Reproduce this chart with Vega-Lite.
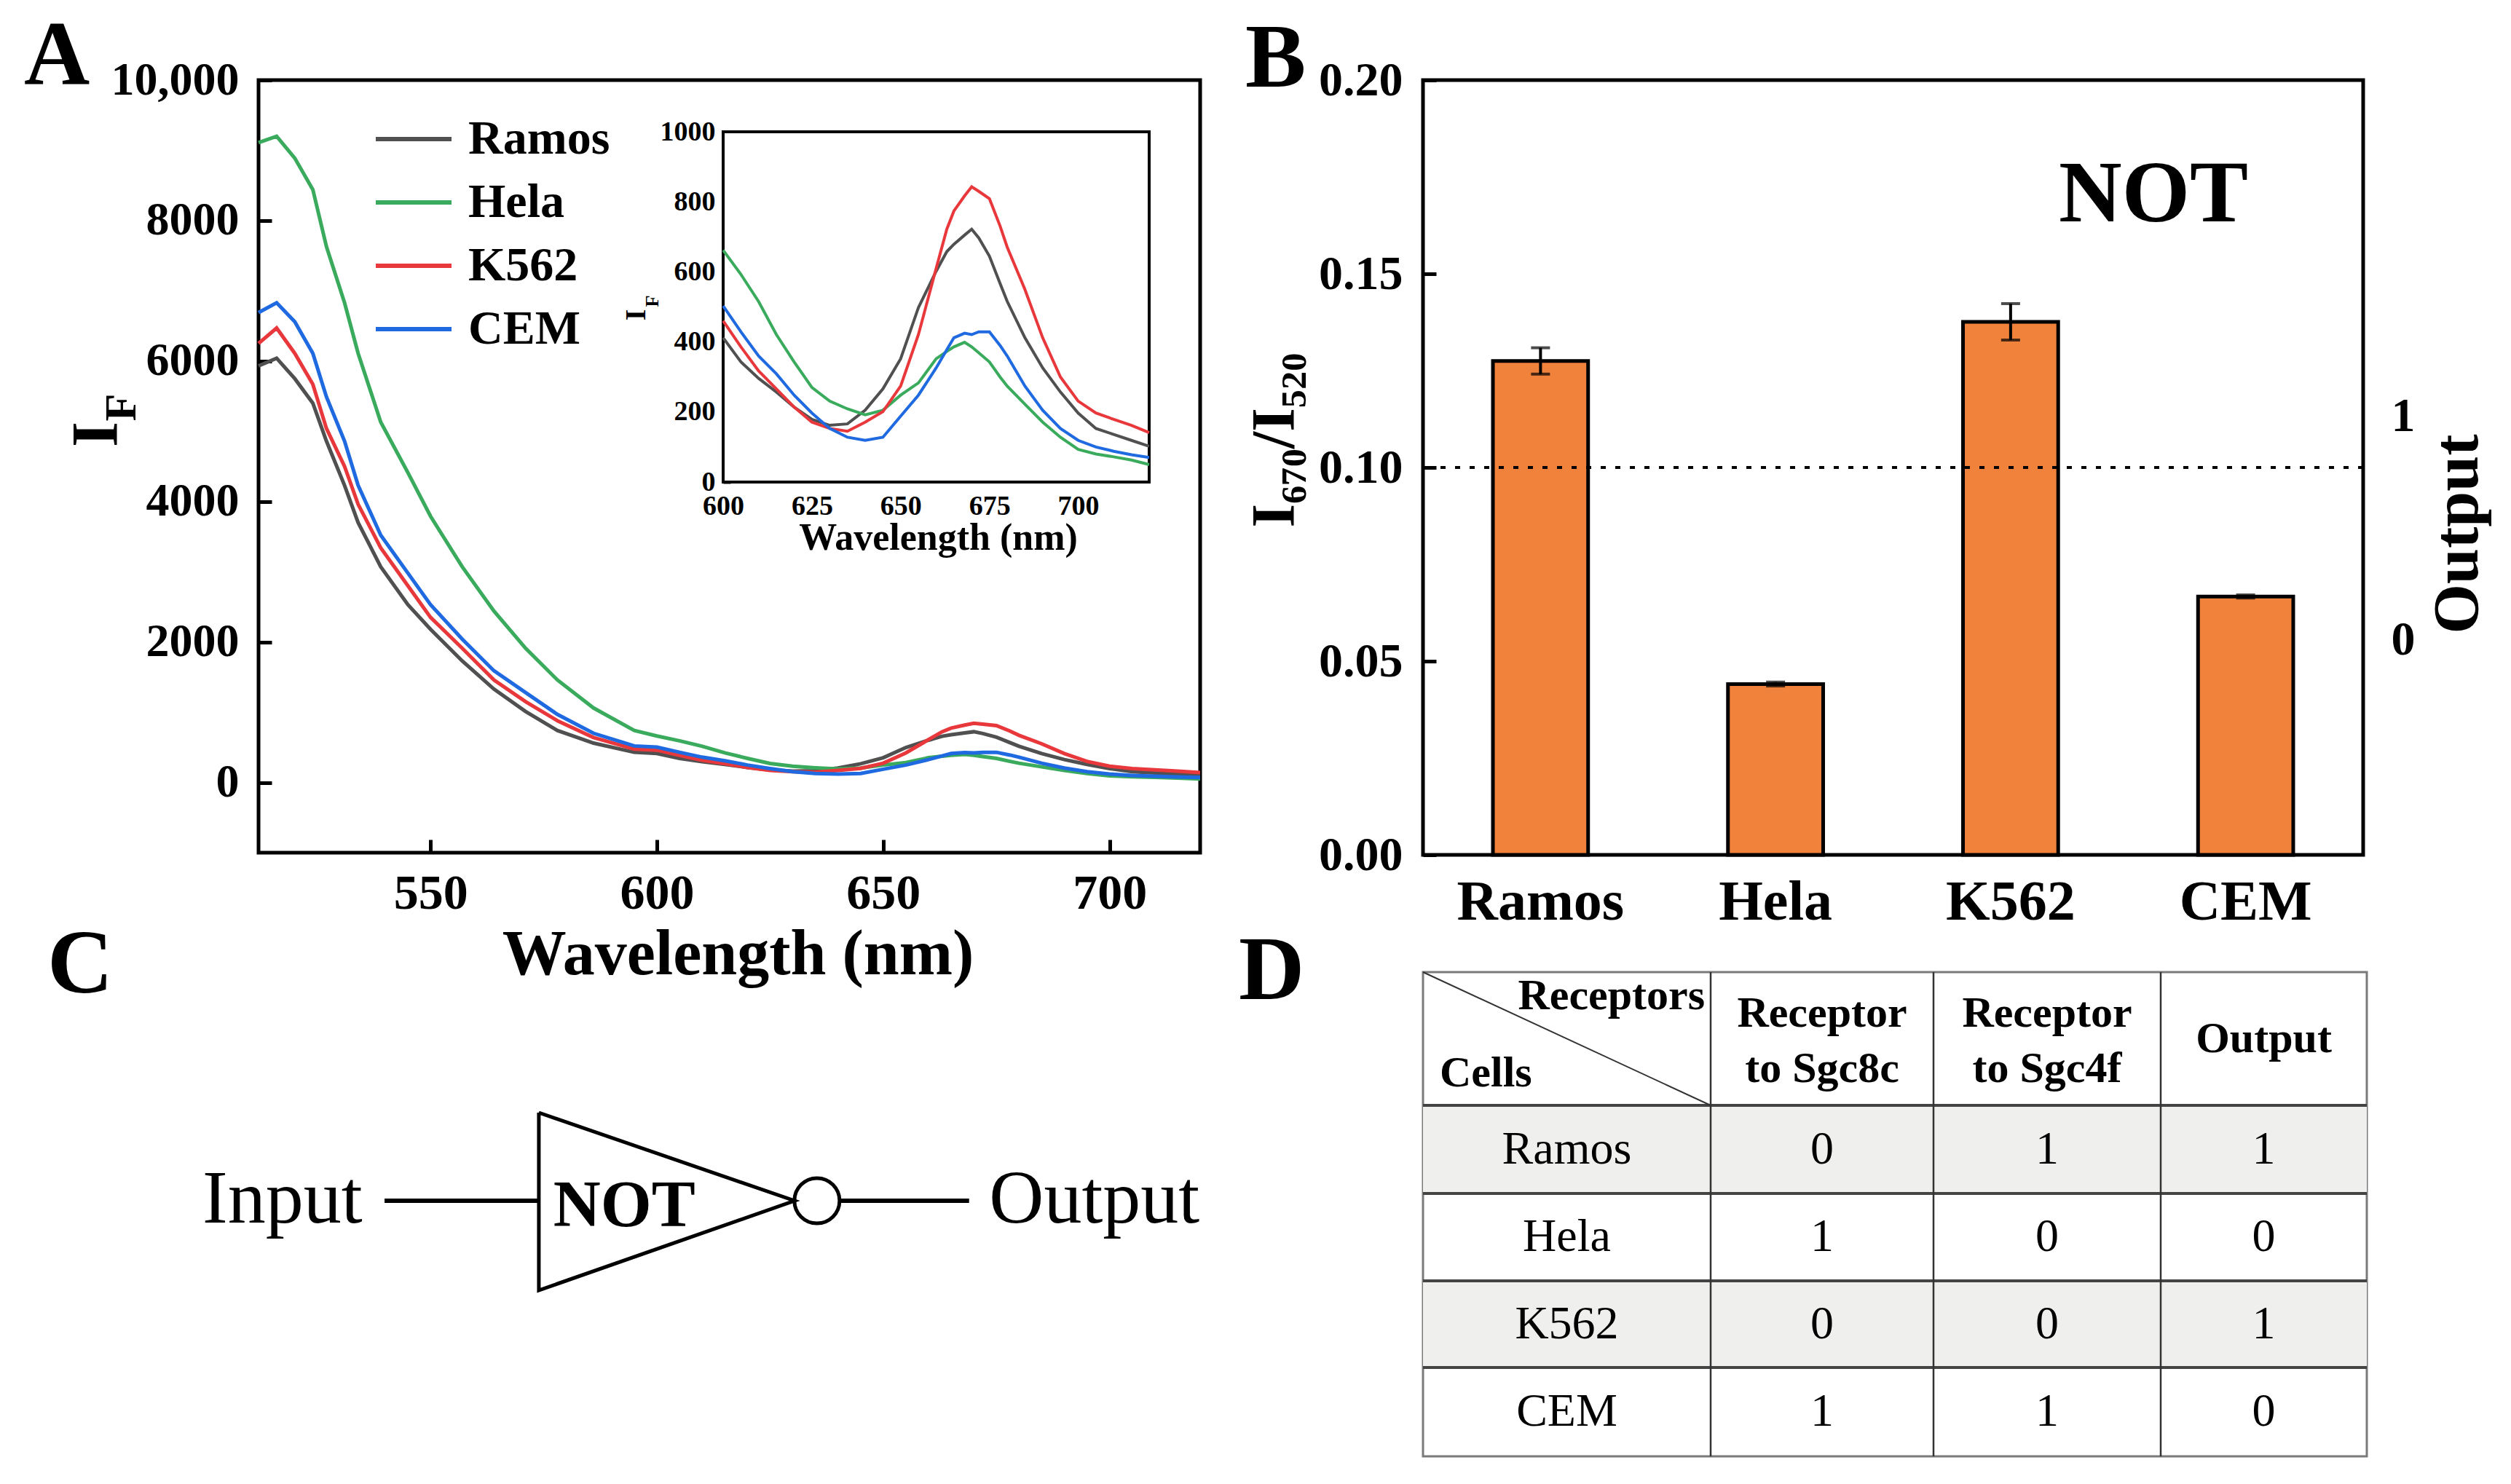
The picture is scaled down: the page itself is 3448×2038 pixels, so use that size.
{
"$schema": "https://vega.github.io/schema/vega-lite/v6.json",
"background": "white",
"padding": {"left": 30, "top": 12, "right": 10, "bottom": 10},
"config": {
  "font": "Liberation Serif",
  "view": {"stroke": null},
  "axis": {"labelFont": "Liberation Serif", "titleFont": "Liberation Serif", "labelColor": "black", "titleColor": "black", "tickColor": "black", "labelFontWeight": "bold", "titleFontWeight": "bold", "grid": false, "domain": false, "labelFlush": false, "labelOverlap": false, "labelLimit": 600},
  "title": {"font": "Liberation Serif", "fontWeight": "bold", "fontSize": 125, "color": "black", "anchor": "start", "frame": "group", "offset": 0, "baseline": "alphabetic"},
  "text": {"font": "Liberation Serif", "color": "black"}
},
"datasets": {
  "spectra": [
    {"cell":"Ramos","wavelength":512,"intensity":5930},{"cell":"Ramos","wavelength":516,"intensity":6040},{"cell":"Ramos","wavelength":520,"intensity":5750},{"cell":"Ramos","wavelength":524,"intensity":5400},{"cell":"Ramos","wavelength":527,"intensity":4860},{"cell":"Ramos","wavelength":531,"intensity":4230},{"cell":"Ramos","wavelength":534,"intensity":3700},{"cell":"Ramos","wavelength":539,"intensity":3070},{"cell":"Ramos","wavelength":545,"intensity":2530},{"cell":"Ramos","wavelength":550,"intensity":2180},{"cell":"Ramos","wavelength":557,"intensity":1730},{"cell":"Ramos","wavelength":564,"intensity":1330},{"cell":"Ramos","wavelength":571,"intensity":1010},{"cell":"Ramos","wavelength":578,"intensity":740},{"cell":"Ramos","wavelength":586,"intensity":560},{"cell":"Ramos","wavelength":595,"intensity":430},{"cell":"Ramos","wavelength":600,"intensity":412},{"cell":"Ramos","wavelength":605,"intensity":343},{"cell":"Ramos","wavelength":610,"intensity":296},{"cell":"Ramos","wavelength":615,"intensity":257},{"cell":"Ramos","wavelength":620,"intensity":214},{"cell":"Ramos","wavelength":625,"intensity":179},{"cell":"Ramos","wavelength":630,"intensity":162},{"cell":"Ramos","wavelength":635,"intensity":166},{"cell":"Ramos","wavelength":640,"intensity":205},{"cell":"Ramos","wavelength":645,"intensity":266},{"cell":"Ramos","wavelength":650,"intensity":352},{"cell":"Ramos","wavelength":655,"intensity":498},{"cell":"Ramos","wavelength":660,"intensity":602},{"cell":"Ramos","wavelength":663,"intensity":658},{"cell":"Ramos","wavelength":665,"intensity":679},{"cell":"Ramos","wavelength":668,"intensity":705},{"cell":"Ramos","wavelength":670,"intensity":722},{"cell":"Ramos","wavelength":672,"intensity":697},{"cell":"Ramos","wavelength":675,"intensity":645},{"cell":"Ramos","wavelength":678,"intensity":567},{"cell":"Ramos","wavelength":680,"intensity":516},{"cell":"Ramos","wavelength":685,"intensity":412},{"cell":"Ramos","wavelength":690,"intensity":326},{"cell":"Ramos","wavelength":695,"intensity":257},{"cell":"Ramos","wavelength":700,"intensity":197},{"cell":"Ramos","wavelength":705,"intensity":153},{"cell":"Ramos","wavelength":710,"intensity":136},{"cell":"Ramos","wavelength":715,"intensity":119},{"cell":"Ramos","wavelength":720,"intensity":102},
    {"cell":"Hela","wavelength":512,"intensity":9110},{"cell":"Hela","wavelength":516,"intensity":9200},{"cell":"Hela","wavelength":520,"intensity":8890},{"cell":"Hela","wavelength":524,"intensity":8440},{"cell":"Hela","wavelength":527,"intensity":7630},{"cell":"Hela","wavelength":531,"intensity":6830},{"cell":"Hela","wavelength":534,"intensity":6110},{"cell":"Hela","wavelength":539,"intensity":5130},{"cell":"Hela","wavelength":545,"intensity":4410},{"cell":"Hela","wavelength":550,"intensity":3790},{"cell":"Hela","wavelength":557,"intensity":3070},{"cell":"Hela","wavelength":564,"intensity":2440},{"cell":"Hela","wavelength":571,"intensity":1910},{"cell":"Hela","wavelength":578,"intensity":1460},{"cell":"Hela","wavelength":586,"intensity":1060},{"cell":"Hela","wavelength":595,"intensity":740},{"cell":"Hela","wavelength":600,"intensity":662},{"cell":"Hela","wavelength":605,"intensity":593},{"cell":"Hela","wavelength":610,"intensity":515},{"cell":"Hela","wavelength":615,"intensity":421},{"cell":"Hela","wavelength":620,"intensity":343},{"cell":"Hela","wavelength":625,"intensity":270},{"cell":"Hela","wavelength":630,"intensity":231},{"cell":"Hela","wavelength":635,"intensity":209},{"cell":"Hela","wavelength":640,"intensity":192},{"cell":"Hela","wavelength":645,"intensity":205},{"cell":"Hela","wavelength":650,"intensity":248},{"cell":"Hela","wavelength":655,"intensity":283},{"cell":"Hela","wavelength":660,"intensity":352},{"cell":"Hela","wavelength":663,"intensity":373},{"cell":"Hela","wavelength":665,"intensity":386},{"cell":"Hela","wavelength":668,"intensity":399},{"cell":"Hela","wavelength":670,"intensity":386},{"cell":"Hela","wavelength":672,"intensity":369},{"cell":"Hela","wavelength":675,"intensity":343},{"cell":"Hela","wavelength":678,"intensity":300},{"cell":"Hela","wavelength":680,"intensity":274},{"cell":"Hela","wavelength":685,"intensity":222},{"cell":"Hela","wavelength":690,"intensity":171},{"cell":"Hela","wavelength":695,"intensity":128},{"cell":"Hela","wavelength":700,"intensity":93},{"cell":"Hela","wavelength":705,"intensity":80},{"cell":"Hela","wavelength":710,"intensity":72},{"cell":"Hela","wavelength":715,"intensity":63},{"cell":"Hela","wavelength":720,"intensity":50},
    {"cell":"K562","wavelength":512,"intensity":6250},{"cell":"K562","wavelength":516,"intensity":6470},{"cell":"K562","wavelength":520,"intensity":6110},{"cell":"K562","wavelength":524,"intensity":5670},{"cell":"K562","wavelength":527,"intensity":5040},{"cell":"K562","wavelength":531,"intensity":4500},{"cell":"K562","wavelength":534,"intensity":3960},{"cell":"K562","wavelength":539,"intensity":3340},{"cell":"K562","wavelength":545,"intensity":2800},{"cell":"K562","wavelength":550,"intensity":2350},{"cell":"K562","wavelength":557,"intensity":1910},{"cell":"K562","wavelength":564,"intensity":1460},{"cell":"K562","wavelength":571,"intensity":1150},{"cell":"K562","wavelength":578,"intensity":880},{"cell":"K562","wavelength":586,"intensity":640},{"cell":"K562","wavelength":595,"intensity":475},{"cell":"K562","wavelength":600,"intensity":460},{"cell":"K562","wavelength":605,"intensity":386},{"cell":"K562","wavelength":610,"intensity":317},{"cell":"K562","wavelength":615,"intensity":266},{"cell":"K562","wavelength":620,"intensity":214},{"cell":"K562","wavelength":625,"intensity":171},{"cell":"K562","wavelength":630,"intensity":153},{"cell":"K562","wavelength":635,"intensity":145},{"cell":"K562","wavelength":640,"intensity":171},{"cell":"K562","wavelength":645,"intensity":201},{"cell":"K562","wavelength":650,"intensity":274},{"cell":"K562","wavelength":655,"intensity":421},{"cell":"K562","wavelength":660,"intensity":610},{"cell":"K562","wavelength":663,"intensity":722},{"cell":"K562","wavelength":665,"intensity":774},{"cell":"K562","wavelength":668,"intensity":817},{"cell":"K562","wavelength":670,"intensity":843},{"cell":"K562","wavelength":672,"intensity":830},{"cell":"K562","wavelength":675,"intensity":809},{"cell":"K562","wavelength":678,"intensity":731},{"cell":"K562","wavelength":680,"intensity":671},{"cell":"K562","wavelength":685,"intensity":550},{"cell":"K562","wavelength":690,"intensity":412},{"cell":"K562","wavelength":695,"intensity":300},{"cell":"K562","wavelength":700,"intensity":231},{"cell":"K562","wavelength":705,"intensity":197},{"cell":"K562","wavelength":710,"intensity":179},{"cell":"K562","wavelength":715,"intensity":162},{"cell":"K562","wavelength":720,"intensity":141},
    {"cell":"CEM","wavelength":512,"intensity":6690},{"cell":"CEM","wavelength":516,"intensity":6830},{"cell":"CEM","wavelength":520,"intensity":6560},{"cell":"CEM","wavelength":524,"intensity":6110},{"cell":"CEM","wavelength":527,"intensity":5490},{"cell":"CEM","wavelength":531,"intensity":4860},{"cell":"CEM","wavelength":534,"intensity":4230},{"cell":"CEM","wavelength":539,"intensity":3520},{"cell":"CEM","wavelength":545,"intensity":2980},{"cell":"CEM","wavelength":550,"intensity":2530},{"cell":"CEM","wavelength":557,"intensity":2040},{"cell":"CEM","wavelength":564,"intensity":1590},{"cell":"CEM","wavelength":571,"intensity":1280},{"cell":"CEM","wavelength":578,"intensity":970},{"cell":"CEM","wavelength":586,"intensity":700},{"cell":"CEM","wavelength":595,"intensity":520},{"cell":"CEM","wavelength":600,"intensity":503},{"cell":"CEM","wavelength":605,"intensity":429},{"cell":"CEM","wavelength":610,"intensity":360},{"cell":"CEM","wavelength":615,"intensity":309},{"cell":"CEM","wavelength":620,"intensity":248},{"cell":"CEM","wavelength":625,"intensity":197},{"cell":"CEM","wavelength":630,"intensity":153},{"cell":"CEM","wavelength":635,"intensity":128},{"cell":"CEM","wavelength":640,"intensity":119},{"cell":"CEM","wavelength":645,"intensity":128},{"cell":"CEM","wavelength":650,"intensity":188},{"cell":"CEM","wavelength":655,"intensity":248},{"cell":"CEM","wavelength":660,"intensity":326},{"cell":"CEM","wavelength":663,"intensity":378},{"cell":"CEM","wavelength":665,"intensity":412},{"cell":"CEM","wavelength":668,"intensity":425},{"cell":"CEM","wavelength":670,"intensity":421},{"cell":"CEM","wavelength":672,"intensity":429},{"cell":"CEM","wavelength":675,"intensity":429},{"cell":"CEM","wavelength":678,"intensity":390},{"cell":"CEM","wavelength":680,"intensity":360},{"cell":"CEM","wavelength":685,"intensity":274},{"cell":"CEM","wavelength":690,"intensity":205},{"cell":"CEM","wavelength":695,"intensity":153},{"cell":"CEM","wavelength":700,"intensity":119},{"cell":"CEM","wavelength":705,"intensity":100},{"cell":"CEM","wavelength":710,"intensity":88},{"cell":"CEM","wavelength":715,"intensity":78},{"cell":"CEM","wavelength":720,"intensity":70}
  ],
  "ratios": [
    {"cell":"Ramos","ratio":0.1275,"err":0.0034,"output":1},
    {"cell":"Hela","ratio":0.0441,"err":0.0005,"output":0},
    {"cell":"K562","ratio":0.1376,"err":0.0047,"output":1},
    {"cell":"CEM","ratio":0.0667,"err":0.0004,"output":0}
  ],
  "wires": [
    {"x0":17.4,"x1":38.7,"y0":31.4,"y1":31.4},
    {"x0":80.4,"x1":98.1,"y0":31.4,"y1":31.4}
  ],
  "gate": [
    {"i":0,"x":38.7,"y":19.3},{"i":1,"x":74.0,"y":31.4},{"i":2,"x":38.7,"y":43.7},{"i":3,"x":38.7,"y":19.3}
  ],
  "bubble": [{"x":77.1,"y":31.4}],
  "gateLabels": [{"label":"Input","x":3.3,"y":34.4},{"label":"Output","x":115.4,"y":34.4}],
  "gateName": [{"label":"NOT","x":50.5,"y":34.9}],
  "truth": [
    {"Cells":"Ramos","Sgc8c":0,"Sgc4f":1,"Output":1},
    {"Cells":"Hela","Sgc8c":1,"Sgc4f":0,"Output":0},
    {"Cells":"K562","Sgc8c":0,"Sgc4f":0,"Output":1},
    {"Cells":"CEM","Sgc8c":1,"Sgc4f":1,"Output":0}
  ],
  "colEdges": [
    {"col":"Cells","left":0,"right":395,"xc":197.5},
    {"col":"Sgc8c","left":395,"right":701,"xc":548},
    {"col":"Sgc4f","left":701,"right":1013,"xc":857},
    {"col":"Output","left":1013,"right":1296,"xc":1154.5}
  ],
  "rowEdges": [
    {"row":"header","top":0,"bottom":183,"yc":91.5},
    {"row":"Ramos","top":183,"bottom":304,"yc":243.5},
    {"row":"Hela","top":304,"bottom":424,"yc":364},
    {"row":"K562","top":424,"bottom":543,"yc":483.5},
    {"row":"CEM","top":543,"bottom":665,"yc":604}
  ],
  "headers2": [
    {"col":"Sgc8c","label":["Receptor","to Sgc8c"]},
    {"col":"Sgc4f","label":["Receptor","to Sgc4f"]}
  ],
  "headers1": [
    {"col":"Output","row":"header","label":"Output"}
  ]
},
"columns": 2,
"spacing": {"row": 161, "column": 306},
"bounds": "flush",
"concat": [
  {
    "width": 1293, "height": 1061,
    "title": {"text": "A", "dx": -322, "dy": 67},
    "view": {"stroke": "black", "strokeWidth": 5},
    "layer": [
      {
        "layer": [
          {
            "data": {"name": "spectra"},
            "mark": {"type": "line", "strokeWidth": 5},
            "encoding": {
              "x": {"field": "wavelength", "type": "quantitative", "scale": {"domain": [512, 720], "nice": false, "zero": false},
                    "axis": {"orient": "bottom", "values": [550, 600, 650, 700], "tickSize": -18, "tickWidth": 5, "labelFontSize": 68, "labelPadding": 40, "title": "Wavelength (nm)", "titleFontSize": 88, "titleX": 658, "titleY": 166, "titleBaseline": "alphabetic", "titleAlign": "center"}},
              "y": {"field": "intensity", "type": "quantitative", "scale": {"domain": [-1000, 10000], "nice": false, "zero": false},
                    "axis": {"orient": "left", "values": [0, 2000, 4000, 6000, 8000, 10000], "format": "d", "labelExpr": "datum.value == 10000 ? '10,000' : datum.label", "tickSize": -18, "tickWidth": 5, "labelFontSize": 64, "labelPadding": 45, "title": "I", "titleFontSize": 90, "titleX": -222, "titleY": 486, "titleAngle": 270, "titleAlign": "center", "titleBaseline": "middle"}},
              "color": {"field": "cell", "type": "nominal",
                        "scale": {"domain": ["Ramos", "Hela", "K562", "CEM"], "range": ["#505050", "#3aaa5c", "#e8383c", "#1f6ae0"]},
                        "legend": {"title": null, "orient": "none", "legendX": 170, "legendY": 38, "symbolType": "M-1.3,0H1.3", "symbolSize": 6400, "symbolStrokeWidth": 6, "labelFontSize": 66, "labelFontWeight": "bold", "labelFont": "Liberation Serif", "labelColor": "black", "labelOffset": 32, "labelLimit": 600, "rowPadding": 11, "padding": 0}}
            }
          },
          {
            "data": {"name": "spectra"},
            "mark": {"type": "point", "opacity": 0},
            "encoding": {
              "x": {"field": "wavelength", "type": "quantitative", "scale": {"domain": [512, 720], "nice": false, "zero": false}, "axis": null},
              "y": {"field": "intensity", "type": "quantitative", "scale": {"domain": [-1000, 10000], "nice": false, "zero": false},
                    "axis": {"orient": "left", "labels": false, "ticks": false, "title": "F", "titleFontSize": 62, "titleX": -189, "titleY": 449, "titleAngle": 270, "titleAlign": "center", "titleBaseline": "middle"}}
            }
          }
        ],
        "resolve": {"axis": {"x": "independent", "y": "independent"}}
      },
      {
        "layer": [
          {
            "data": {"values": [{}]},
            "mark": {"type": "rect", "fill": "white", "stroke": "black", "strokeWidth": 4},
            "encoding": {
              "x": {"datum": 600, "type": "quantitative", "scale": {"domain": [600, 720], "range": [638, 1223], "nice": false, "zero": false},
                    "axis": {"orient": "bottom", "offset": -509, "values": [600, 625, 650, 675, 700], "tickSize": -10, "tickWidth": 4, "labelFontSize": 38, "labelPadding": 24, "title": "Wavelength (nm)", "titleFontSize": 52, "titleX": 933, "titleY": 92, "titleBaseline": "alphabetic", "titleAlign": "center"}},
              "x2": {"datum": 720},
              "y": {"datum": 0, "type": "quantitative", "scale": {"domain": [0, 1000], "range": [552, 71], "nice": false, "zero": false},
                    "axis": {"orient": "left", "offset": -638, "values": [0, 200, 400, 600, 800, 1000], "format": "d", "tickSize": -10, "tickWidth": 4, "labelFontSize": 38, "labelPadding": 21, "title": "I", "titleFontSize": 40, "titleX": -120, "titleY": 322, "titleAngle": 270, "titleAlign": "center", "titleBaseline": "middle"}},
              "y2": {"datum": 1000}
            }
          },
          {
            "data": {"name": "spectra"},
            "transform": [{"filter": "datum.wavelength >= 600"}],
            "mark": {"type": "line", "strokeWidth": 4},
            "encoding": {
              "x": {"field": "wavelength", "type": "quantitative", "scale": {"domain": [600, 720], "range": [638, 1223], "nice": false, "zero": false}, "axis": null},
              "y": {"field": "intensity", "type": "quantitative", "scale": {"domain": [0, 1000], "range": [552, 71], "nice": false, "zero": false}, "axis": null},
              "color": {"field": "cell", "type": "nominal", "legend": null}
            }
          },
          {
            "data": {"name": "spectra"},
            "transform": [{"filter": "datum.wavelength >= 600"}],
            "mark": {"type": "point", "opacity": 0},
            "encoding": {
              "x": {"field": "wavelength", "type": "quantitative", "scale": {"domain": [600, 720], "range": [638, 1223], "nice": false, "zero": false},
                    "axis": {"orient": "bottom", "offset": -509, "values": [612.5, 637.5, 662.5, 687.5, 712.5], "tickSize": -6, "tickWidth": 4, "labels": false, "title": null}},
              "y": {"field": "intensity", "type": "quantitative", "scale": {"domain": [0, 1000], "range": [552, 71], "nice": false, "zero": false},
                    "axis": {"orient": "left", "offset": -638, "values": [100, 300, 500, 700, 900], "tickSize": -6, "tickWidth": 4, "labels": false, "title": "F", "titleFontSize": 26, "titleX": -98, "titleY": 303, "titleAngle": 270, "titleAlign": "center", "titleBaseline": "middle"}}
            }
          }
        ],
        "resolve": {"axis": {"x": "independent", "y": "independent"}}
      }
    ],
    "resolve": {"scale": {"x": "independent", "y": "independent"}}
  },
  {
    "width": 1291, "height": 1064,
    "title": {"text": "B", "dx": -244, "dy": 72},
    "view": {"stroke": "black", "strokeWidth": 5},
    "layer": [
      {
        "layer": [
          {
            "data": {"name": "ratios"},
            "mark": {"type": "bar", "fill": "#F0823C", "stroke": "black", "strokeWidth": 5},
            "encoding": {
              "x": {"field": "cell", "type": "nominal", "sort": ["Ramos", "Hela", "K562", "CEM"], "scale": {"paddingInner": 0.595, "paddingOuter": 0.2975},
                    "axis": {"orient": "bottom", "labelAngle": 0, "ticks": false, "labelFontSize": 78, "labelPadding": 26, "labelLimit": 600, "title": null}},
              "y": {"field": "ratio", "type": "quantitative", "scale": {"domain": [0, 0.2], "nice": false},
                    "axis": {"orient": "left", "values": [0, 0.05, 0.1, 0.15, 0.2], "format": ".2f", "tickSize": -18, "tickWidth": 5, "labelFontSize": 66, "labelPadding": 46, "title": "I₆₇₀/I₅₂₀", "titleFontSize": 84, "titleX": -203, "titleY": 494, "titleAngle": 270, "titleAlign": "center", "titleBaseline": "middle"}}
            }
          },
          {
            "data": {"name": "ratios"},
            "mark": {"type": "errorbar", "color": "black", "ticks": {"size": 26, "thickness": 4}, "rule": {"strokeWidth": 4}},
            "encoding": {
              "x": {"field": "cell", "type": "nominal", "sort": ["Ramos", "Hela", "K562", "CEM"], "axis": null},
              "y": {"field": "ratio", "type": "quantitative", "axis": null},
              "yError": {"field": "err"}
            }
          },
          {
            "data": {"values": [{}]},
            "mark": {"type": "rule", "strokeDash": [7, 13], "strokeWidth": 4, "color": "black"},
            "encoding": {"y": {"datum": 0.1, "type": "quantitative", "axis": null}}
          }
        ],
        "resolve": {"axis": {"x": "independent", "y": "independent"}}
      },
      {
        "data": {"values": [{}]},
        "mark": {"type": "text", "text": "NOT", "fontSize": 120, "fontWeight": "bold", "baseline": "middle", "align": "center"},
        "encoding": {
          "x": {"datum": 3.108, "type": "quantitative", "scale": {"domain": [0, 4], "nice": false, "zero": false}, "axis": null},
          "y": {"datum": 0.1703, "type": "quantitative", "scale": {"domain": [0, 0.2], "nice": false}, "axis": null}
        }
      },
      {
        "data": {"name": "ratios"},
        "mark": {"type": "point", "opacity": 0},
        "encoding": {
          "x": {"field": "cell", "type": "nominal", "axis": null},
          "y": {"field": "output", "type": "quantitative", "scale": {"domain": [-0.96, 2.5], "nice": false, "zero": false},
                "axis": {"orient": "right", "values": [0, 1], "ticks": false, "labelFontSize": 66, "labelPadding": 38, "title": "Output", "titleFontSize": 88, "titleX": 130, "titleY": 623, "titleAngle": 270, "titleAlign": "center", "titleBaseline": "middle"}}
        }
      }
    ],
    "resolve": {"scale": {"x": "independent", "y": "independent"}}
  },
  {
    "width": 1293, "height": 665,
    "title": {"text": "C", "dx": -290, "dy": 58},
    "layer": [
      {
        "data": {"name": "wires"},
        "mark": {"type": "rule", "strokeWidth": 6, "color": "black"},
        "encoding": {
          "x": {"field": "x0", "type": "quantitative", "scale": {"domain": [0, 130], "nice": false, "zero": false}, "axis": null},
          "x2": {"field": "x1"},
          "y": {"field": "y0", "type": "quantitative", "scale": {"domain": [0, 66.5], "reverse": true, "nice": false, "zero": false}, "axis": null},
          "y2": {"field": "y1"}
        }
      },
      {
        "data": {"name": "gate"},
        "mark": {"type": "line", "strokeWidth": 5, "color": "black", "strokeJoin": "miter"},
        "encoding": {
          "x": {"field": "x", "type": "quantitative", "axis": null},
          "y": {"field": "y", "type": "quantitative", "axis": null},
          "order": {"field": "i", "type": "quantitative"}
        }
      },
      {
        "data": {"name": "bubble"},
        "mark": {"type": "point", "shape": "circle", "filled": false, "stroke": "black", "strokeWidth": 5, "size": 3844, "opacity": 1},
        "encoding": {
          "x": {"field": "x", "type": "quantitative", "axis": null},
          "y": {"field": "y", "type": "quantitative", "axis": null}
        }
      },
      {
        "data": {"name": "gateLabels"},
        "mark": {"type": "text", "fontSize": 104, "baseline": "alphabetic", "align": "center"},
        "encoding": {
          "x": {"field": "x", "type": "quantitative", "axis": null},
          "y": {"field": "y", "type": "quantitative", "axis": null},
          "text": {"field": "label"}
        }
      },
      {
        "data": {"name": "gateName"},
        "mark": {"type": "text", "fontSize": 90, "fontWeight": "bold", "baseline": "alphabetic", "align": "center"},
        "encoding": {
          "x": {"field": "x", "type": "quantitative", "axis": null},
          "y": {"field": "y", "type": "quantitative", "axis": null},
          "text": {"field": "label"}
        }
      }
    ]
  },
  {
    "width": 1296, "height": 665,
    "title": {"text": "D", "dx": -253, "dy": 68},
    "view": {"stroke": "#7a7a7a", "strokeWidth": 3},
    "layer": [
      {
        "data": {"name": "rowEdges"},
        "transform": [{"filter": "datum.row == 'Ramos' || datum.row == 'K562'"}],
        "mark": {"type": "rect", "fill": "#efefee"},
        "encoding": {
          "x": {"datum": 0, "type": "quantitative", "scale": {"domain": [0, 1296], "nice": false, "zero": false}, "axis": null},
          "x2": {"datum": 1296},
          "y": {"field": "top", "type": "quantitative", "scale": {"domain": [0, 665], "reverse": true, "nice": false, "zero": false}, "axis": null},
          "y2": {"field": "bottom"}
        }
      },
      {
        "data": {"name": "rowEdges"},
        "transform": [{"filter": "datum.top > 0"}],
        "mark": {"type": "rule", "color": "#444444", "strokeWidth": 4},
        "encoding": {"y": {"field": "top", "type": "quantitative", "axis": null}}
      },
      {
        "data": {"name": "colEdges"},
        "transform": [{"filter": "datum.left > 0"}],
        "mark": {"type": "rule", "color": "#333333", "strokeWidth": 2.5},
        "encoding": {"x": {"field": "left", "type": "quantitative", "axis": null}}
      },
      {
        "data": {"values": [{}]},
        "mark": {"type": "rule", "color": "#333333", "strokeWidth": 2},
        "encoding": {
          "x": {"datum": 0, "type": "quantitative", "axis": null},
          "x2": {"datum": 395},
          "y": {"datum": 0, "type": "quantitative", "axis": null},
          "y2": {"datum": 183}
        }
      },
      {
        "data": {"name": "headers2"},
        "transform": [
          {"lookup": "col", "from": {"data": {"name": "colEdges"}, "key": "col", "fields": ["xc"]}}
        ],
        "mark": {"type": "text", "fontSize": 60, "fontWeight": "bold", "lineHeight": 76, "baseline": "alphabetic", "align": "center"},
        "encoding": {
          "x": {"field": "xc", "type": "quantitative", "axis": null},
          "y": {"datum": 75, "type": "quantitative", "axis": null},
          "text": {"field": "label"}
        }
      },
      {
        "data": {"name": "headers1"},
        "transform": [
          {"lookup": "col", "from": {"data": {"name": "colEdges"}, "key": "col", "fields": ["xc"]}},
          {"lookup": "row", "from": {"data": {"name": "rowEdges"}, "key": "row", "fields": ["yc"]}}
        ],
        "mark": {"type": "text", "fontSize": 60, "fontWeight": "bold", "baseline": "middle", "align": "center"},
        "encoding": {
          "x": {"field": "xc", "type": "quantitative", "axis": null},
          "y": {"field": "yc", "type": "quantitative", "axis": null},
          "text": {"field": "label"}
        }
      },
      {
        "data": {"values": [{}]},
        "mark": {"type": "text", "text": "Receptors", "fontSize": 60, "fontWeight": "bold", "baseline": "top", "align": "right", "dx": -8, "dy": 4},
        "encoding": {
          "x": {"datum": 395, "type": "quantitative", "axis": null},
          "y": {"datum": 0, "type": "quantitative", "axis": null}
        }
      },
      {
        "data": {"values": [{}]},
        "mark": {"type": "text", "text": "Cells", "fontSize": 60, "fontWeight": "bold", "baseline": "bottom", "align": "left", "dx": 23, "dy": -13},
        "encoding": {
          "x": {"datum": 0, "type": "quantitative", "axis": null},
          "y": {"datum": 183, "type": "quantitative", "axis": null}
        }
      },
      {
        "data": {"name": "truth"},
        "transform": [
          {"fold": ["Cells", "Sgc8c", "Sgc4f", "Output"], "as": ["col", "txt"]},
          {"lookup": "col", "from": {"data": {"name": "colEdges"}, "key": "col", "fields": ["xc"]}},
          {"lookup": "Cells", "from": {"data": {"name": "rowEdges"}, "key": "row", "fields": ["yc"]}}
        ],
        "mark": {"type": "text", "fontSize": 64, "baseline": "middle", "align": "center"},
        "encoding": {
          "x": {"field": "xc", "type": "quantitative", "axis": null},
          "y": {"field": "yc", "type": "quantitative", "axis": null},
          "text": {"field": "txt", "type": "nominal"}
        }
      }
    ]
  }
]
}
